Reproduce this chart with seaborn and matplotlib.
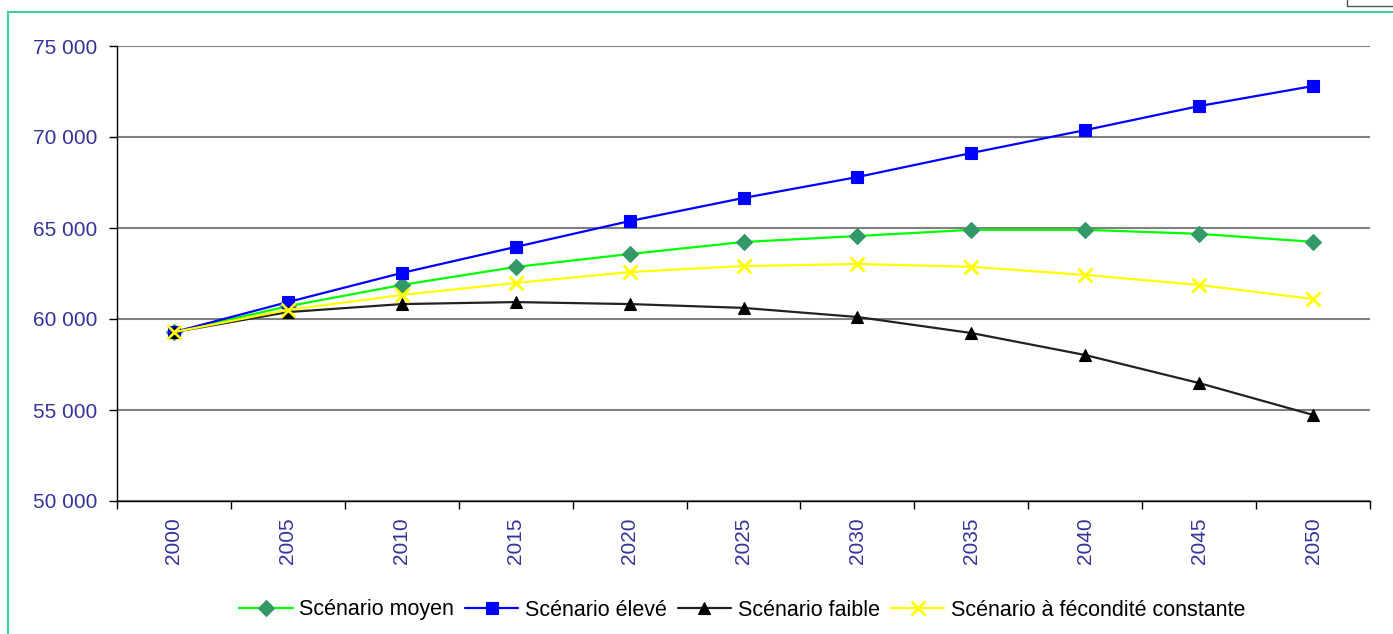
import matplotlib
matplotlib.use("Agg")
import matplotlib.pyplot as plt
from matplotlib.patches import Rectangle
from matplotlib.ticker import FuncFormatter, FixedLocator
import seaborn as sns
import pandas as pd

# Population projections (thousands), 2000-2050
years = [2000, 2005, 2010, 2015, 2020, 2025, 2030, 2035, 2040, 2045, 2050]
moyen = [59280, 60700, 61870, 62860, 63570, 64230, 64560, 64900, 64900, 64680, 64240]
eleve = [59280, 60930, 62530, 63960, 65380, 66650, 67800, 69120, 70380, 71700, 72800]
faible = [59280, 60380, 60820, 60930, 60820, 60610, 60110, 59230, 58020, 56480, 54730]
constante = [59280, 60500, 61320, 61980, 62580, 62910, 63020, 62870, 62420, 61870, 61100]

series_names = ["Scénario moyen", "Scénario élevé", "Scénario faible",
                "Scénario à fécondité constante"]
series_values = [moyen, eleve, faible, constante]

styles = {
    "Scénario moyen": dict(color="#00FF00", marker="D", mfc="#339966", mec="#339966", ms=8),
    "Scénario élevé": dict(color="#0000FF", marker="s", mfc="#0000FF", mec="#0000FF", ms=9),
    "Scénario faible": dict(color="#222222", marker="^", mfc="#000000", mec="#000000", ms=9),
    "Scénario à fécondité constante": dict(color="#FFFF00", marker="x", mfc="#FFFF00", mec="#FFFF00", ms=10),
}

rows = []
for name, vals in zip(series_names, series_values):
    for i, (yr, v) in enumerate(zip(years, vals)):
        rows.append({"pos": i, "year": yr, "value": v, "scenario": name})
df = pd.DataFrame(rows)

sns.set_theme(style="white")
plt.rcParams["font.family"] = ["Liberation Sans", "DejaVu Sans"]

fig = plt.figure(figsize=(13.93, 6.34), dpi=100)
ax = fig.add_axes([117 / 1393, 1 - 501 / 634, (1370 - 117) / 1393, (501 - 46) / 634])

for name in series_names:
    st = styles[name]
    sub = df[df["scenario"] == name]
    sns.lineplot(data=sub, x="pos", y="value", ax=ax, color=st["color"], lw=1.6,
                 marker=st["marker"], markersize=st["ms"],
                 markerfacecolor=st["mfc"], markeredgecolor=st["mec"],
                 markeredgewidth=2 if st["marker"] == "x" else 0.8,
                 label=name)

ax.set_xlim(-0.5, len(years) - 0.5)
ax.set_ylim(50000, 75000)
ax.set_yticks(range(50000, 75001, 5000))
ax.yaxis.set_major_formatter(FuncFormatter(lambda v, p: f"{int(v):,}".replace(",", " ")))
ax.set_xticks(range(len(years)))
ax.set_xticklabels([str(y) for y in years], rotation=90)
ax.xaxis.set_minor_locator(FixedLocator([i - 0.5 for i in range(len(years) + 1)]))

ax.grid(axis="y", color="#808080", lw=1.5)
ax.set_axisbelow(True)
ax.set_xlabel("")
ax.set_ylabel("")

for s in ["top", "right"]:
    ax.spines[s].set_visible(False)
for s in ["left", "bottom"]:
    ax.spines[s].set_color("#000000")
    ax.spines[s].set_linewidth(1.0)

label_color = "#333399"
ax.tick_params(axis="y", which="major", length=6, width=1, color="#000000",
               labelsize=15, labelcolor=label_color, left=True, pad=8)
ax.tick_params(axis="x", which="major", length=0, labelsize=15,
               labelcolor=label_color, pad=12)
ax.tick_params(axis="x", which="minor", length=6, width=1, color="#000000", bottom=True)

handles, labels = ax.get_legend_handles_labels()
leg = ax.legend(handles, labels, loc="center", bbox_to_anchor=(742 / 1393, 1 - 610 / 634),
                bbox_transform=fig.transFigure, ncol=4, frameon=False, fontsize=15.5,
                handlelength=2.5, handletextpad=0.3, columnspacing=0.5)
for t in leg.get_texts():
    t.set_color("#000000")

# outer chart frame
fig.patches.append(Rectangle((8 / 1393, -0.05), 1.1, 1 - 12 / 634 + 0.05,
                             transform=fig.transFigure, fill=False,
                             edgecolor="#3CCF9E", lw=1.5))
fig.patches.append(Rectangle((1347 / 1393, 1 - 6 / 634), 0.05, 0.02,
                             transform=fig.transFigure, fill=False,
                             edgecolor="#555555", lw=1))

fig.savefig("out.png", dpi=100)
